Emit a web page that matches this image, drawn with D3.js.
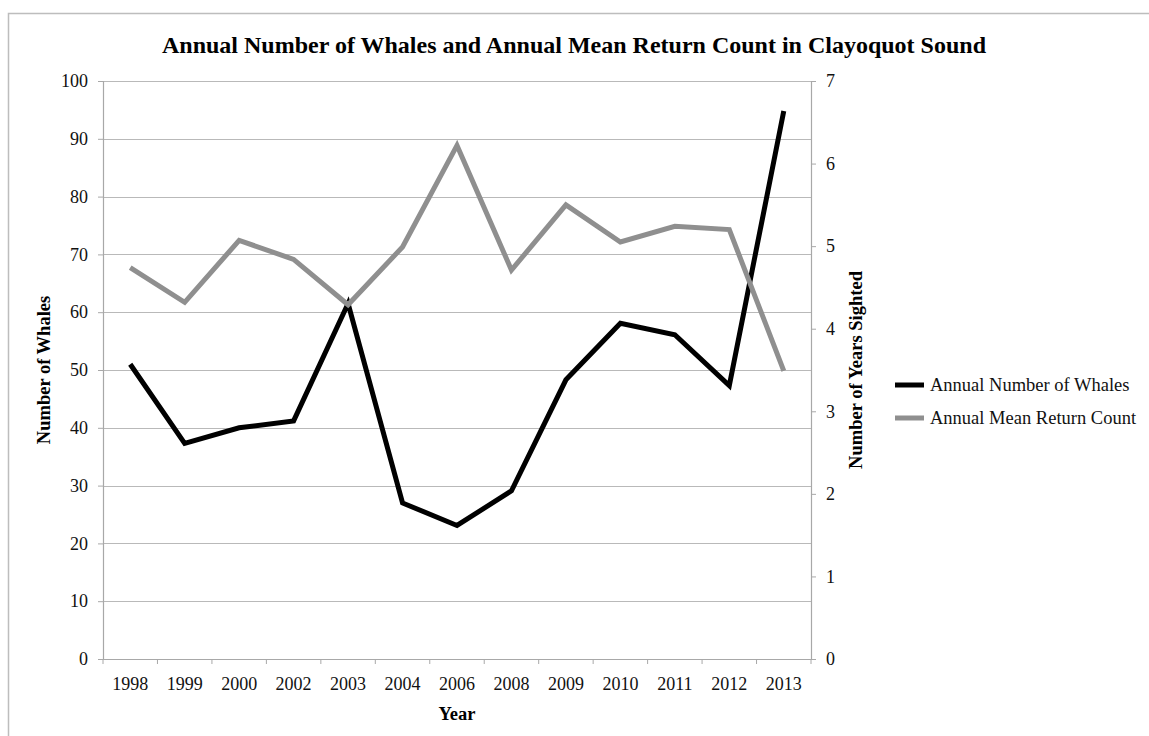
<!DOCTYPE html>
<html>
<head>
<meta charset="utf-8">
<script src="https://cdn.jsdelivr.net/npm/d3@7"></script>
<style>
  body { margin: 0; background: #fff; }
  svg { font-family: "Liberation Serif", "Times New Roman", serif; }
</style>
</head>
<body>
<div id="chart"></div>
<script>
// data
var years = ["1998","1999","2000","2002","2003","2004","2006","2008","2009","2010","2011","2012","2013"];
var whales = [51, 37.3, 40, 41.2, 61.5, 27, 23.1, 29.1, 48.3, 58.1, 56.1, 47.3, 94.8];
var returnCount = [4.74, 4.32, 5.07, 4.84, 4.29, 4.99, 6.22, 4.71, 5.5, 5.05, 5.24, 5.2, 3.49];
var leftTicks = [0,10,20,30,40,50,60,70,80,90,100];
var rightTicks = [0,1,2,3,4,5,6,7];

var W = 1149, H = 736;
var margin = {left: 103, right: 1149 - 811, top: 81, bottom: 736 - 659};
var pw = W - margin.left - margin.right,
    ph = H - margin.top - margin.bottom;

var svg = d3.select("#chart").append("svg")
    .attr("width", W)
    .attr("height", H);

// outer frame
svg.append("rect")
    .attr("x", 8.5).attr("y", 13.5)
    .attr("width", W + 20).attr("height", H + 20)
    .style("fill", "none").style("stroke", "#bdbdbd").style("stroke-width", 1.5);

var x = d3.scaleBand().domain(years).range([0, pw]).padding(0);
var yL = d3.scaleLinear().domain([0, 100]).range([ph, 0]);
var yR = d3.scaleLinear().domain([0, 7]).range([ph, 0]);

var g = svg.append("g").attr("transform", "translate(" + margin.left + "," + margin.top + ")");

// gridlines
g.append("g").selectAll("line")
    .data(leftTicks)
  .enter().append("line")
    .attr("x1", 0).attr("x2", pw)
    .attr("y1", function(d) { return Math.round(yL(d)) + 0.5; })
    .attr("y2", function(d) { return Math.round(yL(d)) + 0.5; })
    .style("stroke", "#b9b9b9").style("stroke-width", 1.2);

var axisColor = "#a8a8a8";
var tickFont = 18;

// left axis
var left = g.append("g").call(d3.axisLeft(yL).tickValues(leftTicks).tickSize(5).tickPadding(10));
left.select(".domain").style("stroke", axisColor).style("stroke-width", 1.2);
left.selectAll(".tick line").style("stroke", axisColor);
left.selectAll("text").style("font-family", "Liberation Serif").style("font-size", tickFont + "px").style("fill", "#111");

// right axis
var right = g.append("g").attr("transform", "translate(" + pw + ",0)")
    .call(d3.axisRight(yR).tickValues(rightTicks).tickFormat(d3.format("d")).tickSize(5).tickPadding(10));
right.select(".domain").style("stroke", axisColor).style("stroke-width", 1.2);
right.selectAll(".tick line").style("stroke", axisColor);
right.selectAll("text").style("font-family", "Liberation Serif").style("font-size", tickFont + "px").style("fill", "#111");

// bottom axis: ticks at band boundaries
var bottom = g.append("g").attr("transform", "translate(0," + ph + ")");
bottom.append("line").attr("x1", 0).attr("x2", pw).attr("y1", 0.5).attr("y2", 0.5)
    .style("stroke", axisColor).style("stroke-width", 1.2);
bottom.selectAll(".bt")
    .data(years.concat(["end"]))
  .enter().append("line")
    .attr("x1", function(d, i) { return i * x.step(); })
    .attr("x2", function(d, i) { return i * x.step(); })
    .attr("y1", 0).attr("y2", 5)
    .style("stroke", axisColor);
bottom.selectAll("text")
    .data(years)
  .enter().append("text")
    .attr("x", function(d) { return x(d) + x.bandwidth() / 2; })
    .attr("y", 31)
    .attr("text-anchor", "middle")
    .style("font-size", tickFont + "px").style("fill", "#111")
    .text(function(d) { return d; });

// lines
var lineL = d3.line()
    .x(function(d, i) { return x(years[i]) + x.bandwidth() / 2; })
    .y(function(d) { return yL(d); });
var lineR = d3.line()
    .x(function(d, i) { return x(years[i]) + x.bandwidth() / 2; })
    .y(function(d) { return yR(d); });

g.append("path").datum(whales)
    .attr("d", lineL)
    .style("fill", "none").style("stroke", "#000").style("stroke-width", 5)
    .style("stroke-linejoin", "miter");
g.append("path").datum(returnCount)
    .attr("d", lineR)
    .style("fill", "none").style("stroke", "#8f8f8f").style("stroke-width", 5)
    .style("stroke-linejoin", "miter");

// titles
svg.append("text")
    .attr("x", 574).attr("y", 53)
    .attr("text-anchor", "middle")
    .style("font-size", "24px").style("font-weight", "bold")
    .text("Annual Number of Whales and Annual Mean Return Count in Clayoquot Sound");

svg.append("text")
    .attr("transform", "translate(50," + (margin.top + ph / 2) + ") rotate(-90)")
    .attr("text-anchor", "middle")
    .style("font-size", "18.5px").style("font-weight", "bold")
    .text("Number of Whales");

svg.append("text")
    .attr("transform", "translate(862," + (margin.top + ph / 2) + ") rotate(-90)")
    .attr("text-anchor", "middle")
    .style("font-size", "18.5px").style("font-weight", "bold")
    .text("Number of Years Sighted");

svg.append("text")
    .attr("x", margin.left + pw / 2).attr("y", 720)
    .attr("text-anchor", "middle")
    .style("font-size", "18.5px").style("font-weight", "bold")
    .text("Year");

// legend
var legendItems = [
  {name: "Annual Number of Whales", color: "#000"},
  {name: "Annual Mean Return Count", color: "#8f8f8f"}
];
var legend = svg.append("g").attr("transform", "translate(895,385)");
var li = legend.selectAll("g").data(legendItems).enter().append("g")
    .attr("transform", function(d, i) { return "translate(0," + i * 33 + ")"; });
li.append("line").attr("x1", 0).attr("x2", 29).attr("y1", 0).attr("y2", 0)
    .style("stroke", function(d) { return d.color; }).style("stroke-width", 5);
li.append("text").attr("x", 35).attr("y", 0).attr("dy", "0.35em")
    .style("font-size", "18.5px").style("fill", "#111")
    .text(function(d) { return d.name; });
</script>
</body>
</html>
